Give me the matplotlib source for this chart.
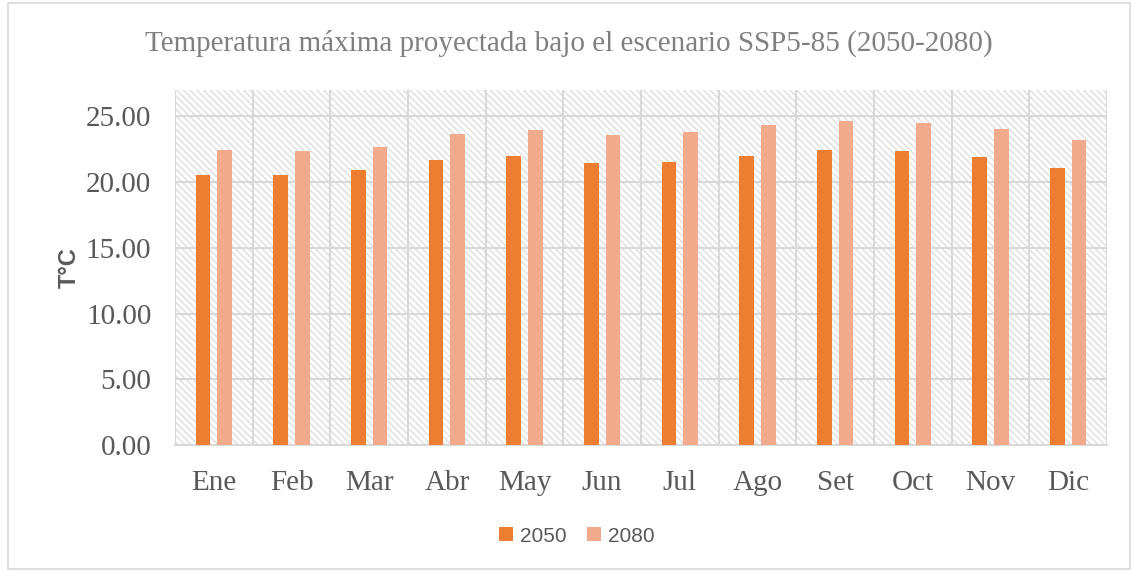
import numpy as np
import matplotlib.pyplot as plt
from matplotlib.patches import Rectangle

# Datos
meses = ["Ene", "Feb", "Mar", "Abr", "May", "Jun", "Jul", "Ago", "Set", "Oct", "Nov", "Dic"]
t2050 = [20.52, 20.57, 20.90, 21.66, 21.96, 21.43, 21.50, 21.96, 22.42, 22.37, 21.94, 21.10]
t2080 = [22.42, 22.39, 22.67, 23.66, 23.99, 23.56, 23.80, 24.37, 24.64, 24.52, 24.06, 23.18]

color_2050 = "#ed7d31"
color_2080 = "#f2aa8c"
gris = "#595959"
serif = ["Liberation Serif", "DejaVu Serif"]
sans = ["Liberation Sans", "DejaVu Sans"]

fig = plt.figure(figsize=(11.33, 5.71), dpi=100)
ax = fig.add_axes([0.1545, 0.2207, 0.8225, 0.6217])

# borde de la figura
fig.patches.append(Rectangle((0.007, 0.004), 0.99, 0.99, transform=fig.transFigure,
                             fill=False, edgecolor="#d9d9d9", linewidth=1.2))

# fondo rayado del area de trazado
ax.set_facecolor("white")
plt.rcParams["hatch.color"] = "#e2e2e2"
plt.rcParams["hatch.linewidth"] = 1.2
fondo = Rectangle((0, 0), 1, 1, transform=ax.transAxes, facecolor="white",
                  edgecolor="#e2e2e2", hatch="\\\\\\\\\\", linewidth=0, zorder=0)
ax.add_patch(fondo)

x = np.arange(len(meses))
w = 0.19
gap = 0.09
ax.bar(x - (w + gap) / 2, t2050, width=w, color=color_2050, label="2050", zorder=3)
ax.bar(x + (w + gap) / 2, t2080, width=w, color=color_2080, label="2080", zorder=3)

ax.set_xlim(-0.5, len(meses) - 0.5)
ax.set_ylim(0, 27)
ax.set_yticks(np.arange(0, 26, 5))
ax.set_yticklabels([f"{v:.2f}" for v in np.arange(0, 26, 5)])
ax.set_xticks(x)
ax.set_xticklabels(meses)
ax.set_xticks(np.arange(-0.5, len(meses), 1), minor=True)

ax.grid(axis="y", which="major", color="#d9d9d9", linewidth=1.5, zorder=1)
ax.grid(axis="x", which="minor", color="#d9d9d9", linewidth=1.5, zorder=1)
ax.set_axisbelow(True)

for s in ["top", "right", "left"]:
    ax.spines[s].set_visible(False)
ax.spines["bottom"].set_color("#d9d9d9")
ax.spines["bottom"].set_linewidth(1.5)

ax.tick_params(axis="both", which="both", length=0)
ax.tick_params(axis="y", pad=17, labelsize=21, labelcolor=gris)
ax.tick_params(axis="x", pad=18, labelsize=21, labelcolor=gris)
for lab in ax.get_xticklabels() + ax.get_yticklabels():
    lab.set_family(serif)

ax.set_ylabel("T°C", fontsize=17, fontweight="bold", color=gris, family=sans)
ax.yaxis.set_label_coords(-0.101, 0.5)

fig.text(0.502, 0.924, "Temperatura máxima proyectada bajo el escenario SSP5-85 (2050-2080)",
         ha="center", va="center", fontsize=21, color="#808080", family=serif)

leg = fig.legend(loc="center", bbox_to_anchor=(0.509, 0.061), ncol=2, frameon=False,
                 handlelength=0.67, handleheight=0.67, columnspacing=1.0,
                 handletextpad=0.34, prop={"family": sans, "size": 15})
for t in leg.get_texts():
    t.set_color(gris)

fig.savefig("out.png", dpi=100)
